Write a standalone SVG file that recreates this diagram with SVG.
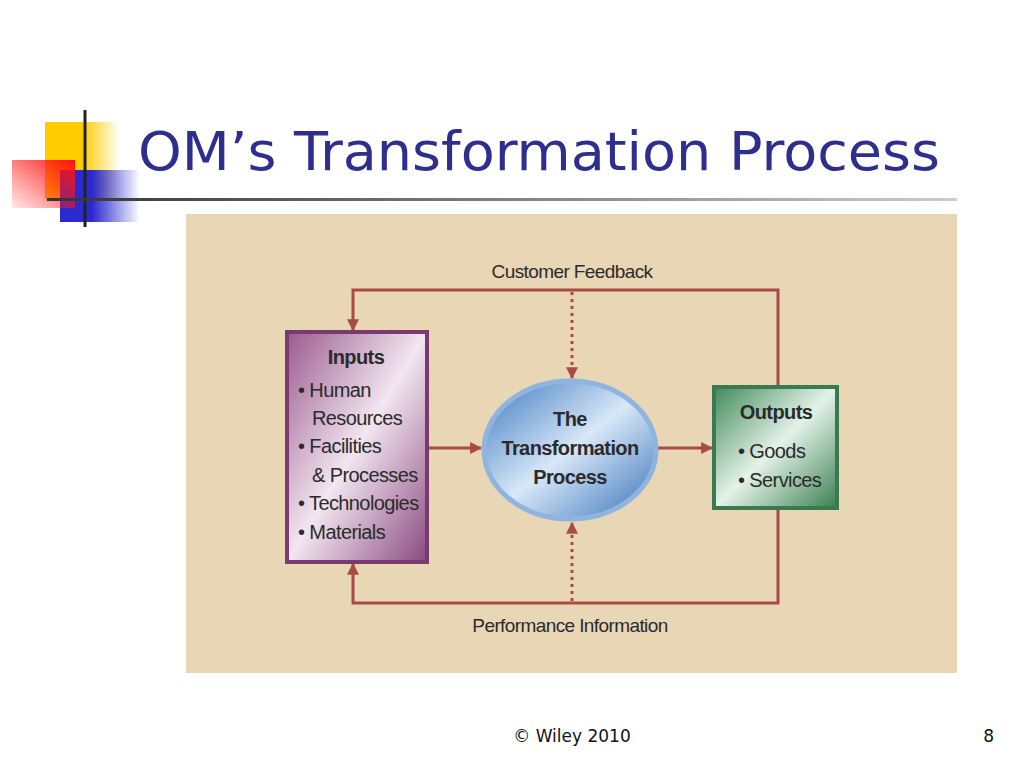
<svg xmlns="http://www.w3.org/2000/svg" width="1024" height="767" viewBox="0 0 1024 767">
<defs>
<style>
.ln{stroke:#a84a48;stroke-width:3;fill:none}
.dt{stroke:#a84a48;stroke-width:3;fill:none;stroke-dasharray:3 4}
.t{font-family:"Liberation Sans",Arial,sans-serif;fill:#2b2b2b;letter-spacing:-0.6px}
.b{font-weight:bold}
</style>
<marker id="ah" viewBox="0 0 10 10" refX="9" refY="5" markerWidth="4" markerHeight="4" orient="auto"><path d="M0,0 L10,5 L0,10 Z" fill="#a84a48"/></marker>
<linearGradient id="pur" x1="0" y1="0" x2="1" y2="1"><stop offset="0" stop-color="#9a5a8e"/><stop offset="0.5" stop-color="#f2e6f0"/><stop offset="1" stop-color="#8a4a80"/></linearGradient>
<linearGradient id="grn" x1="0" y1="0" x2="1" y2="1"><stop offset="0" stop-color="#3f8a5a"/><stop offset="0.5" stop-color="#e4f2e8"/><stop offset="1" stop-color="#3a8050"/></linearGradient>
<linearGradient id="blu" x1="0" y1="0" x2="1" y2="1"><stop offset="0" stop-color="#3d79c0"/><stop offset="0.5" stop-color="#d8e8f8"/><stop offset="1" stop-color="#3570b8"/></linearGradient>
<linearGradient id="yel" x1="0" y1="0" x2="1" y2="0"><stop offset="0.5" stop-color="#ffcc00"/><stop offset="1" stop-color="#ffcc00" stop-opacity="0"/></linearGradient>
<linearGradient id="red" x1="1" y1="0" x2="0" y2="1"><stop offset="0" stop-color="#ff1010"/><stop offset="1" stop-color="#ff2020" stop-opacity="0.1"/></linearGradient>
<linearGradient id="bl2" x1="0" y1="0" x2="1" y2="0"><stop offset="0.4" stop-color="#2a2ad0"/><stop offset="1" stop-color="#2a2ad0" stop-opacity="0"/></linearGradient>
<linearGradient id="hr" x1="0" y1="0" x2="1" y2="0"><stop offset="0" stop-color="#333"/><stop offset="1" stop-color="#ccc"/></linearGradient>
</defs>
<rect width="1024" height="767" fill="#fff"/>
<rect x="45" y="122" width="75" height="77" fill="url(#yel)"/>
<rect x="60" y="170" width="80" height="52" fill="url(#bl2)"/>
<rect x="12" y="160" width="63" height="48" fill="url(#red)"/>
<line x1="85" y1="110" x2="85" y2="227" stroke="#222" stroke-width="3"/>
<rect x="47" y="198" width="910" height="3" fill="url(#hr)"/>
<text x="138" y="170" font-family="Tahoma,'DejaVu Sans',sans-serif" font-size="54" fill="#2e2e8f" textLength="802" lengthAdjust="spacingAndGlyphs">OM’s Transformation Process</text>
<rect x="186" y="214" width="771" height="459" fill="#e8d6b5"/>
<g id="connectors">
<path class="ln" d="M778,387 V290 H353 V330" marker-end="url(#ah)"/>
<path class="ln" d="M778,508 V603 H353 V564" marker-end="url(#ah)"/>
<path class="dt" d="M572,292 V378" marker-end="url(#ah)"/>
<path class="dt" d="M572,601 V523" marker-end="url(#ah)"/>
<path class="ln" d="M427,448 H481" marker-end="url(#ah)"/>
<path class="ln" d="M658,448 H712" marker-end="url(#ah)"/>
</g>
<text class="t" x="572" y="278" font-size="19" text-anchor="middle">Customer Feedback</text>
<text class="t" x="570" y="632" font-size="19" text-anchor="middle">Performance Information</text>
<g id="inputs">
<rect x="287" y="332" width="140" height="230" fill="url(#pur)" stroke="#7a3a70" stroke-width="4"/>
<text class="t b" x="356" y="364" font-size="20" text-anchor="middle">Inputs</text>
<text class="t" font-size="20"><tspan x="298" y="397">• Human</tspan><tspan x="312" y="425">Resources</tspan><tspan x="298" y="453">• Facilities</tspan><tspan x="312" y="482">&amp; Processes</tspan><tspan x="298" y="510">• Technologies</tspan><tspan x="298" y="539">• Materials</tspan></text>
</g>
<g id="process">
<ellipse cx="570" cy="450" rx="86" ry="69" fill="url(#blu)" stroke="#8fb4e0" stroke-width="5"/>
<text class="t b" font-size="20" text-anchor="middle"><tspan x="570" y="426">The</tspan><tspan x="570" y="455">Transformation</tspan><tspan x="570" y="484">Process</tspan></text>
</g>
<g id="outputs">
<rect x="714" y="387" width="123" height="121" fill="url(#grn)" stroke="#3a7a50" stroke-width="4"/>
<text class="t b" x="776" y="419" font-size="20" text-anchor="middle">Outputs</text>
<text class="t" font-size="20"><tspan x="738" y="458">• Goods</tspan><tspan x="738" y="487">• Services</tspan></text>
</g>
<text x="572" y="742" font-family="Tahoma,'DejaVu Sans',sans-serif" font-size="17" text-anchor="middle" fill="#111">© Wiley 2010</text>
<text x="994" y="742" font-family="Tahoma,'DejaVu Sans',sans-serif" font-size="17" text-anchor="end" fill="#111">8</text>
</svg>
